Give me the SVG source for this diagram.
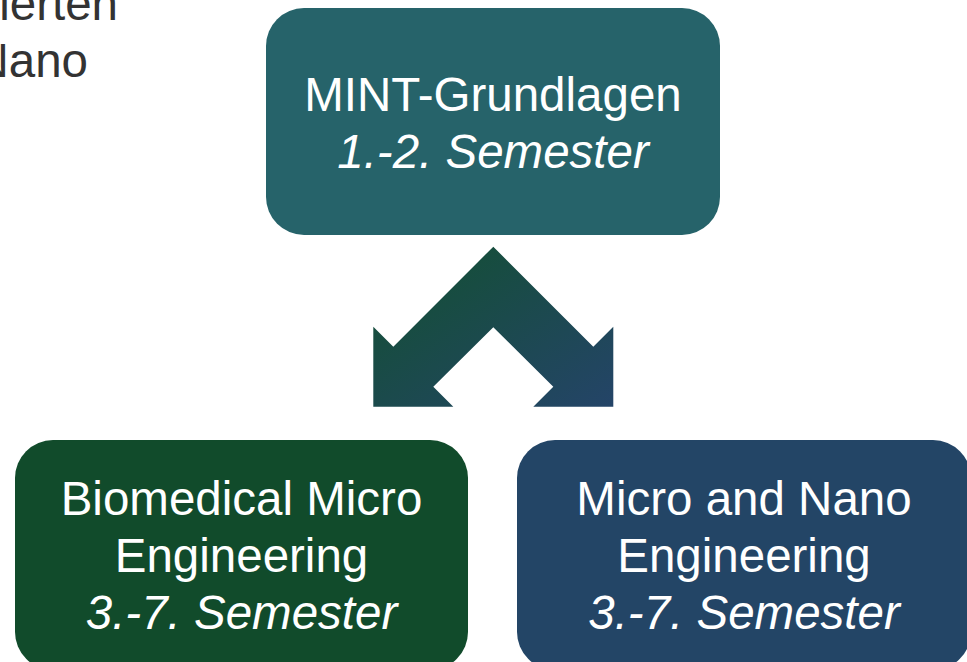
<svg xmlns="http://www.w3.org/2000/svg" width="967" height="662" viewBox="0 0 967 662">
<style>
text{font-family:"Liberation Sans",Arial,sans-serif;font-size:47.5px;}
.lbl{fill:#ffffff;text-anchor:middle;}
.it{font-style:italic;}
.bg{fill:#333333;text-anchor:end;}
</style>
<defs>
<linearGradient id="arrGrad" x1="0" y1="0" x2="1" y2="1">
<stop offset="0" stop-color="#125030"/>
<stop offset="1" stop-color="#244468"/>
</linearGradient>
</defs>
<rect width="967" height="662" fill="#ffffff"/>
<g id="bgtext">
<text class="bg" x="118" y="20">ierten</text>
<text class="bg" x="88" y="77">Nano</text>
</g>
<g id="connectors">
<polygon points="493.3,246.7 593.3,346.7 613.3,326.7 613.3,406.7 533.3,406.7 553.3,386.7 493.3,327.3 433.3,386.7 453.3,406.7 373.3,406.7 373.3,326.7 393.3,346.7" fill="url(#arrGrad)"/>
</g>
<g id="node-mint">
<rect x="266" y="8" width="454" height="227" rx="38" fill="#26636a"/>
<text class="lbl" x="493" y="110.7">MINT-Grundlagen</text>
<text class="lbl it" x="493" y="168.3">1.-2. Semester</text>
</g>
<g id="node-bme">
<rect x="15" y="440" width="453" height="230" rx="38" fill="#114b2b"/>
<text class="lbl" x="241.5" y="515">Biomedical Micro</text>
<text class="lbl" x="241.5" y="571.5">Engineering</text>
<text class="lbl it" x="241.5" y="629">3.-7. Semester</text>
</g>
<g id="node-mne">
<rect x="517" y="440" width="454" height="230" rx="38" fill="#234566"/>
<text class="lbl" x="744" y="515">Micro and Nano</text>
<text class="lbl" x="744" y="571.5">Engineering</text>
<text class="lbl it" x="744" y="629">3.-7. Semester</text>
</g>
</svg>
